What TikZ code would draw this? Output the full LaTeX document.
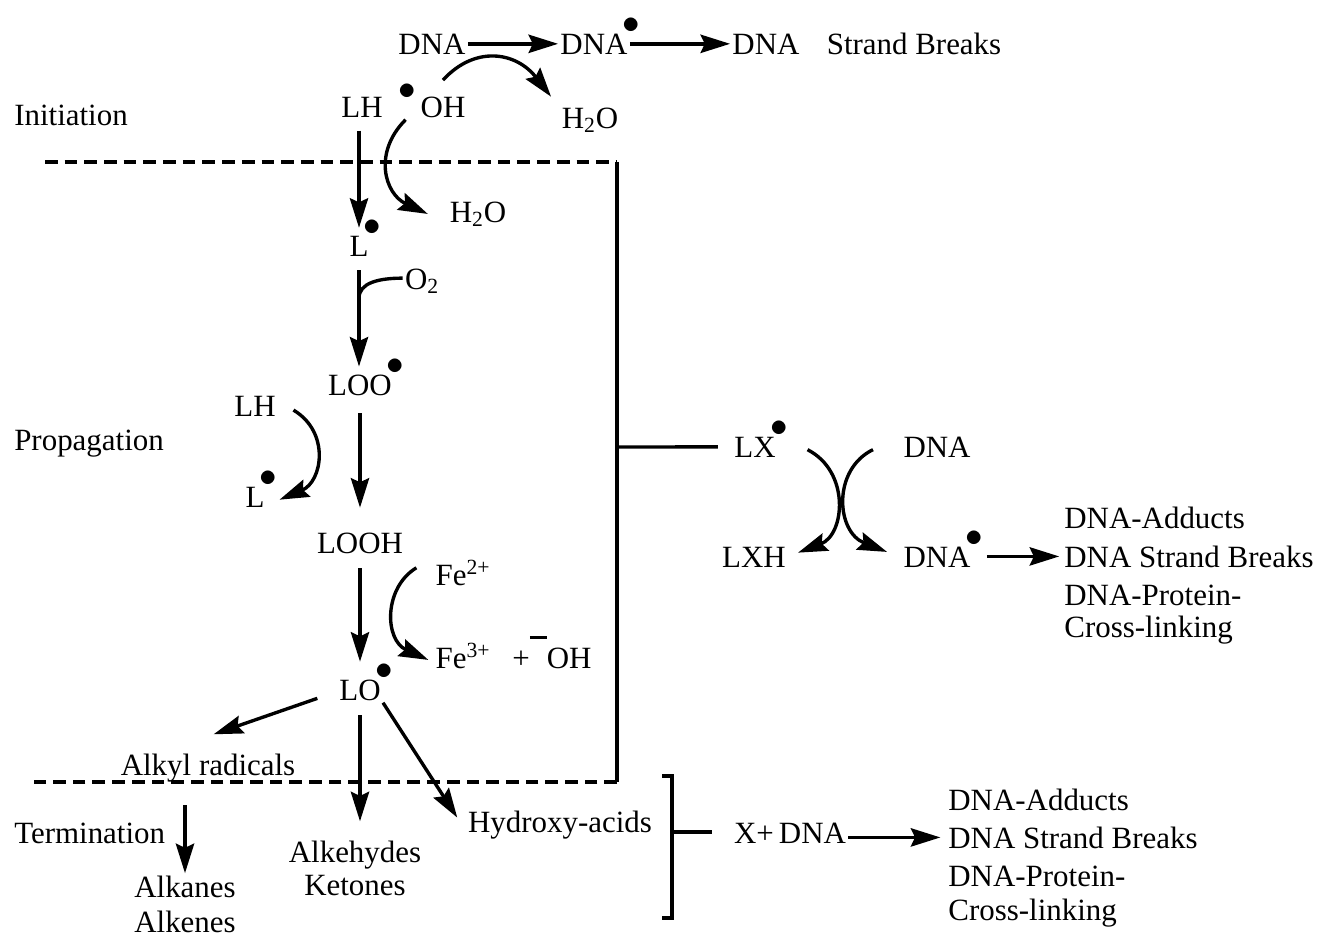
\documentclass[tikz,border=0pt]{standalone}
\usepackage{fontspec}
\setmainfont{Liberation Serif}
\usepackage{graphicx}
\usetikzlibrary{arrows.meta, calc}

% radical dot after / before a species, and the minus bar of OH
\newcommand{\rad}{\makebox[0pt][l]{\hspace{-0.17em}\raisebox{0.67em}[0pt][0pt]{\scalebox{1.2}{$\bullet$}}}}
\newcommand{\radpre}{\makebox[0pt][r]{\raisebox{0.57em}[0pt][0pt]{\scalebox{1.2}{$\bullet$}}\hspace{0.15em}}}
\newcommand{\negbar}{\raisebox{0.95em}[0pt][0pt]{\rule{0.55em}{0.1em}}}

\begin{document}
\begin{tikzpicture}[x=0.025cm, y=-0.025cm,
    every node/.style={font=\fontsize{22}{26}\selectfont},
    species/.style={anchor=base, inner sep=1.5pt},
    stage/.style={anchor=base west, inner sep=0pt},
    item/.style={anchor=base west, inner sep=1.5pt},
    arr/.style={-{Stealth[length=21pt, width=13pt, inset=3pt]}, line width=2.4pt},
    bond/.style={line width=2.4pt},
    border/.style={line width=2.4pt, dash pattern=on 9pt off 5pt}
]
\useasboundingbox (0,0) rectangle (1328,936);

% Stage labels
\node[stage] (init) at (14,125) {Initiation};
\node[stage] (prop) at (14,450) {Propagation};
\node[stage] (term) at (14,843) {Termination};

% Initiation: attack on DNA
\node[species] (dna1) at (432,54) {DNA};
\node[species] (dna2) at (594,54) {DNA\rad};
\node[species] (dna3) at (766,54) {DNA};
\node[species] (sb) at (914,54) {Strand Breaks};
\draw[arr] (dna1) -- (dna2);
\draw[arr] (dna2) -- (dna3);

\node[species] (lh1) at (362,117) {LH};
\node[species] (oh) at (443,117) {\radpre OH};
\node[species] (h2o1) at (590,128) {H\textsubscript{2}O};
\node[species] (h2o2) at (478,222) {H\textsubscript{2}O};
\draw[arr] ([yshift=10pt]oh.north) .. controls +(32,-35) and +(-35,-45) .. ([shift={(-6pt,6pt)}]h2o1.north west);
\draw[arr] ([xshift=-9pt]oh.south west) .. controls +(-33,33) and +(-43,-20) .. ([xshift=-14pt]h2o2.west);

% Stage frame
\coordinate (ftl) at (45,162);
\coordinate (ftr) at (617,162);
\coordinate (fbr) at (617,782);
\coordinate (fbl) at (34,782);
\coordinate (jn) at (617,447);
\draw[border] (ftl) -- (ftr);
\draw[bond] (ftr) -- (fbr);
\draw[border] (fbr) -- (fbl);

% Propagation chain
\node[species] (l1) at (359,256) {L\rad};
\node[species] (o2) at (422,289) {O\textsubscript{2}};
\node[species] (loo) at (360,395) {LOO\rad};
\node[species] (lh2) at (255,416) {LH};
\node[species] (l2) at (255,507) {L\rad};
\node[species] (looh) at (360,553) {LOOH};
\node[species] (fe2) at (463,585) {Fe\textsuperscript{2+}};
\node[species] (fe3) at (463,668) {Fe\textsuperscript{3+}};
\node[species, anchor=base west] (ohm) at (510,668) {+\negbar OH};
\node[species] (lo) at (360,700) {LO\rad};

\draw[arr, shorten <=8pt, shorten >=4pt] (lh1.south -| l1.north) -- (l1.north);
\draw[arr, shorten <=8.5pt, shorten >=4pt] (l1.south) -- (l1.south |- loo.north);
\coordinate (o2in) at ($(l1.south)!0.35!(l1.south |- loo.north)$);
\draw[bond] (o2in) .. controls +(0,-15) and +(-25,0) .. ([yshift=2pt]o2.west);
\draw[arr, shorten <=11pt, shorten >=16pt] (loo.south) -- (loo.south |- looh.north);
\draw[arr] ([shift={(11pt,-3pt)}]lh2.east) .. controls +(37,22) and +(43,-18) .. ([shift={(9pt,-2pt)}]l2.east);
\draw[arr, shorten <=9pt, shorten >=11pt] (looh.south) -- (looh.south |- lo.north);
\draw[arr] ([shift={(-12pt,3.5pt)}]fe2.west) .. controls +(-33,20) and +(-44,-20) .. ([shift={(-3.5pt,-3pt)}]fe3.west);

% Termination products
\node[species] (alk) at (208,775) {Alkyl radicals};
\node[species] (alka) at (185,897) {Alkanes};
\node[species] (alke) at (185,932) {Alkenes};
\node[species] (ald) at (355,862) {Alkehydes};
\node[species] (ket) at (355,895) {Ketones};
\node[species] (hyd) at (560,832) {Hydroxy-acids};
\draw[arr] ([shift={(-14pt,-6pt)}]lo.west) -- ([shift={(4pt,12pt)}]alk.north);
\draw[arr, shorten <=9pt, shorten >=12pt] (lo.south) -- (lo.south |- ald.north);
\draw[arr] (lo.south east) -- ([shift={(-6pt,5pt)}]hyd.west);
\draw[arr, shorten <=15pt] (alk.south -| alka.north) -- (alka.north);

% LX radicals and DNA
\node[species] (lx) at (755,457) {LX\rad};
\node[species] (dna4) at (937,457) {DNA};
\node[species] (lxh) at (754,567) {LXH};
\node[species] (dna5) at (937,567) {DNA\rad};
\draw[bond] (jn) -- ([xshift=-10pt]lx.west);
\draw[arr] ([shift={(21pt,-2pt)}]lx.east) .. controls +(43,22) and +(47,-18) .. ([shift={(7pt,3pt)}]lxh.east);
\draw[arr] ([shift={(-20pt,-2pt)}]dna4.west) .. controls +(-41,20) and +(-51,-20) .. ([shift={(-10pt,3.5pt)}]dna5.west);

% Damage list, upper
\foreach \i/\txt/\y in {1/DNA-Adducts/528, 2/DNA Strand Breaks/567, 3/DNA-Protein-/605, 4/Cross-linking/637} {
    \node[item] (a\i) at (1062,\y) {\txt};
}
\draw[arr, shorten <=10pt, shorten >=2pt] (dna5.east |- a2.west) -- (a2.west);

% Bracket and X + DNA
\coordinate (brtop) at (672,776);
\coordinate (brbot) at (672,918);
\coordinate (brmid) at (672,832);
\node[species] (xdna) at (790,843) {X+\,DNA};
\draw[bond] ([xshift=-7pt]brtop) -- (brtop) -- (brbot) -- ([xshift=-7pt]brbot);
\draw[bond] (brmid) -- ([xshift=-14pt]xdna.west |- brmid);

% Damage list, lower
\foreach \i/\txt/\y in {1/DNA-Adducts/810, 2/DNA Strand Breaks/848, 3/DNA-Protein-/886, 4/Cross-linking/920} {
    \node[item] (b\i) at (946,\y) {\txt};
}
\draw[arr, shorten >=4pt] (xdna.east |- b2.west) -- (b2.west);

\end{tikzpicture}
\end{document}
